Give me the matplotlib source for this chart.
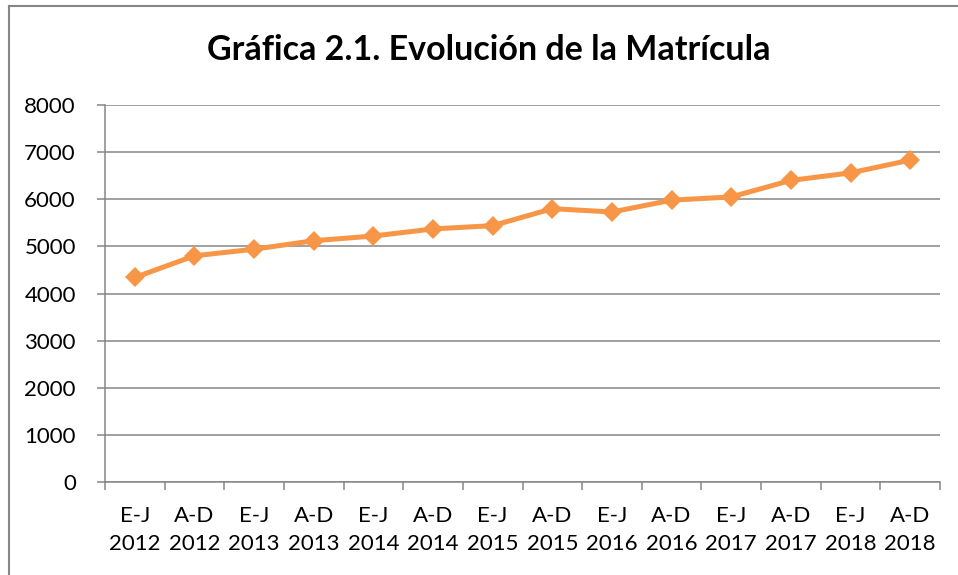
import matplotlib
matplotlib.use("Agg")
import matplotlib.pyplot as plt
from matplotlib.lines import Line2D
import numpy as np

periods = ["E-J", "A-D", "E-J", "A-D", "E-J", "A-D", "E-J", "A-D", "E-J", "A-D", "E-J", "A-D", "E-J", "A-D"]
years = ["2012", "2012", "2013", "2013", "2014", "2014", "2015", "2015", "2016", "2016", "2017", "2017", "2018", "2018"]
matricula = [4340, 4800, 4940, 5120, 5220, 5370, 5440, 5800, 5730, 5980, 6050, 6400, 6560, 6830]
yticks = [0, 1000, 2000, 3000, 4000, 5000, 6000, 7000, 8000]
title = "Gráfica 2.1. Evolución de la Matrícula"

plt.rcParams['font.family'] = ['Lato', 'DejaVu Sans']

W, H = 958, 575
fig = plt.figure(figsize=(W / 100, H / 100), dpi=100)
ax = fig.add_axes([105 / W, 1 - 482 / H, (940 - 105) / W, (482 - 105) / H])

grey = "#868686"
x = np.arange(len(matricula))
labels = [f"{p}\n{y}" for p, y in zip(periods, years)]

ax.plot(x, matricula, color="#F79646", lw=3.6, marker="D", markersize=10,
        markeredgewidth=0, solid_joinstyle="round", zorder=3)

ax.set_xlim(-0.5, len(matricula) - 0.5)
ax.set_ylim(0, 8000)
ax.set_yticks(yticks)
ax.set_yticklabels([str(v) for v in yticks])
ax.set_xticks(x)
ax.set_xticklabels(labels, linespacing=1.55)
ax.set_xticks(np.arange(-0.5, len(matricula), 1.0), minor=True)

ax.tick_params(axis="x", which="major", length=0, pad=17, labelsize=16, colors="black")
ax.tick_params(axis="x", which="minor", length=6, width=1.1, color=grey, direction="out")
ax.tick_params(axis="y", which="major", length=6, width=1.1, color=grey, pad=15, labelsize=16)

ax.grid(axis="y", color=grey, lw=1.1)
ax.set_axisbelow(True)
for s in ["top", "right"]:
    ax.spines[s].set_visible(False)
for s in ["left", "bottom"]:
    ax.spines[s].set_color(grey)
    ax.spines[s].set_linewidth(1.1)

fig.text(489 / W, 1 - 50 / H, title, ha="center", va="center",
         fontsize=24.5, fontweight="bold")

# outer chart border (left and top)
fig.add_artist(Line2D([8.5 / W, 8.5 / W], [1 - 5.5 / H, 0], transform=fig.transFigure,
                      color=grey, lw=1.5))
fig.add_artist(Line2D([8.5 / W, 957 / W], [1 - 5.5 / H, 1 - 5.5 / H], transform=fig.transFigure,
                      color=grey, lw=1.5))

fig.savefig("out.png", dpi=100)
